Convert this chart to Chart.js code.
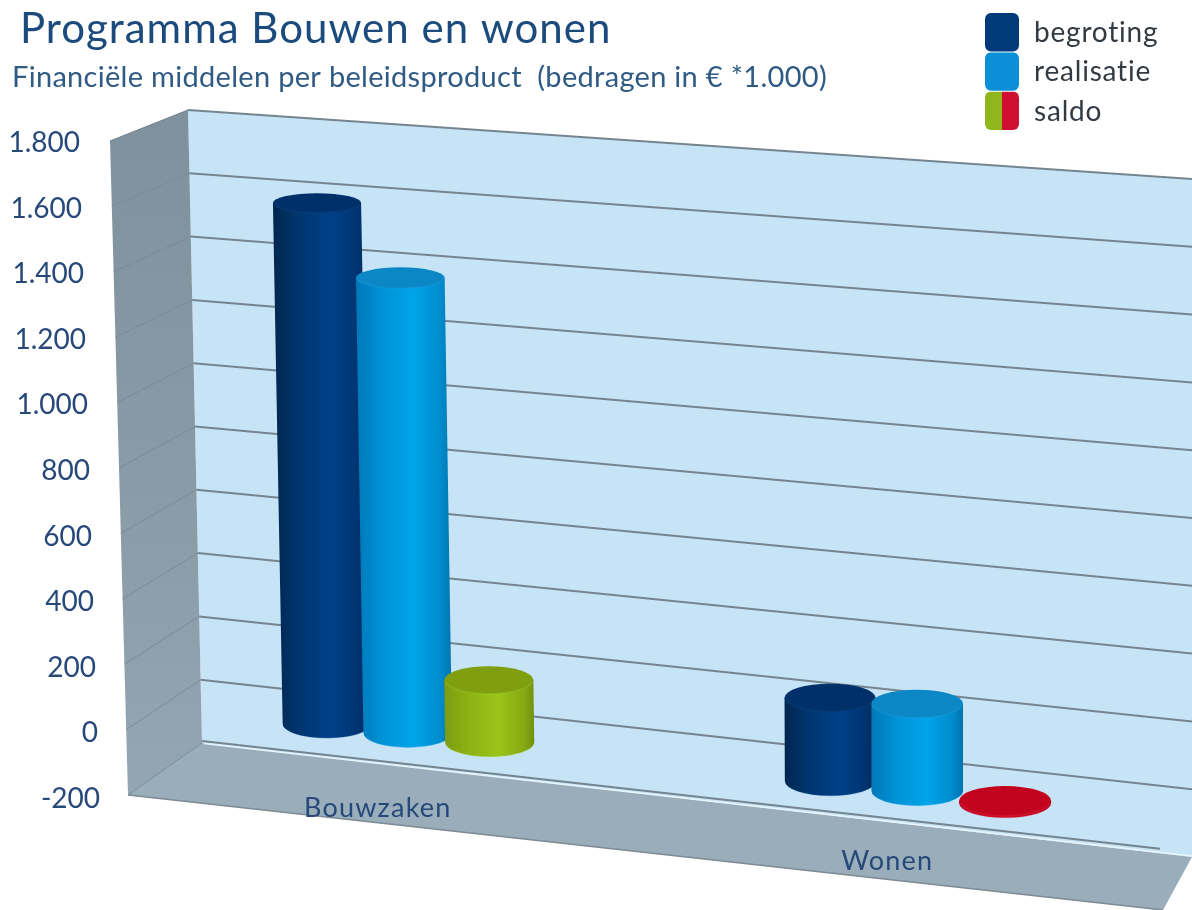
<!DOCTYPE html>
<html>
<head>
<meta charset="utf-8">
<script src="https://cdn.jsdelivr.net/npm/chart.js@4"></script>
<style>html,body{margin:0;padding:0;background:#fff}canvas{display:block}</style>
</head>
<body>
<canvas id="c" width="1192" height="910"></canvas>
<script>
const chartTitle = 'Programma Bouwen en wonen';
const chartSubtitle = 'Financiële middelen per beleidsproduct  (bedragen in € *1.000)';
const categories = ['Bouwzaken', 'Wonen'];
const begroting = [1605, 248];
const realisatie = [1395, 258];
const saldo = [190, -6];
const tickValues = [-200, 0, 200, 400, 600, 800, 1000, 1200, 1400, 1600, 1800];
const tickLabels = ['-200', '0', '200', '400', '600', '800', '1.000', '1.200', '1.400', '1.600', '1.800'];

const FONT = 'Lato, Carlito, "Open Sans", sans-serif';
const paints = {
  begroting: {side: ['#00264f', '#003670', '#004088', '#003470', '#002853'], top: '#003069', rim: '#1d5a9c', sw: ['#003a78']},
  realisatie: {side: ['#0078b8', '#0092d6', '#00a4ea', '#008ccc', '#0072b0'], top: '#0b87c6', rim: '#30b4f0', sw: ['#0b90d8']},
  saldo: {side: ['#7c9c10', '#8cb214', '#9ac41a', '#88aa12', '#70900e'], top: '#7f9f10', rim: '#b4dc30', sw: ['#8fb71c', '#cf1030']},
  neg: {side: ['#b8001a', '#c4041e', '#cc0820', '#c0041c', '#b4001a'], top: '#c2041e', rim: '#e8506a'}
};

function clampLean(x) { return Math.max(0, 0.024 * (1 - (x - 150) / 800)); }
function mapX(x) { const d = x - 407; return 407 + 0.965 * d + 0.0000686 * d * d; }
function zeroAt(x) { return 733 + 0.1135 * (x - 407); }
function unitAt(x) { return (0.3205 + 0.0000225 * (x - 190)) / 0.327; }
function ryAt(y) { return 9.8 + 0.0085 * (y - 203); }

function drawCylinder(ctx, x0, yTop, yBot, w, p) {
  const xt = x0 - clampLean(x0) * (yBot - yTop);
  const rt = ryAt(yTop), rb = ryAt(yBot), hw = w / 2;
  const g = ctx.createLinearGradient(Math.min(xt, x0) - hw, 0, Math.max(xt, x0) + hw, 0);
  [0, 0.27, 0.6, 0.88, 1].forEach((s, i) => g.addColorStop(s, p.side[i]));
  ctx.beginPath();
  ctx.moveTo(xt - hw, yTop);
  ctx.lineTo(x0 - hw, yBot);
  ctx.ellipse(x0, yBot, hw, rb, 0, Math.PI, 0, true);
  ctx.lineTo(xt + hw, yTop);
  ctx.closePath();
  ctx.fillStyle = g;
  ctx.fill();
  ctx.beginPath();
  ctx.ellipse(x0, yBot, hw - 0.5, rb, 0, Math.PI * 0.9, Math.PI * 0.1, true);
  ctx.strokeStyle = p.rim;
  ctx.globalAlpha = 0.3;
  ctx.lineWidth = 1;
  ctx.stroke();
  ctx.globalAlpha = 1;
  ctx.beginPath();
  ctx.ellipse(xt, yTop, hw, rt, 0, 0, Math.PI * 2);
  ctx.fillStyle = p.top;
  ctx.fill();
  ctx.beginPath();
  ctx.ellipse(xt, yTop, hw - 1, rt, 0, Math.PI * 0.95, Math.PI * 0.05, true);
  ctx.strokeStyle = p.rim;
  ctx.globalAlpha = 0.18;
  ctx.lineWidth = 2;
  ctx.stroke();
  ctx.globalAlpha = 1;
}

const scene = {
  id: 'scene',
  beforeDraw(chart) {
    const ctx = chart.ctx, y = chart.scales.y;
    ctx.save();
    ctx.fillStyle = '#ffffff';
    ctx.fillRect(0, 0, chart.width, chart.height);
    ctx.beginPath();
    ctx.moveTo(188, 110); ctx.lineTo(1192, 179); ctx.lineTo(1192, 857); ctx.lineTo(202, 743); ctx.closePath();
    ctx.fillStyle = '#c6e4f6';
    ctx.fill();
    const wg = ctx.createLinearGradient(0, 110, 0, 795);
    wg.addColorStop(0, '#7f919d'); wg.addColorStop(0.6, '#8a9ca8'); wg.addColorStop(1, '#94a6b2');
    ctx.beginPath();
    ctx.moveTo(110, 141); ctx.lineTo(188, 110); ctx.lineTo(202, 743); ctx.lineTo(128, 795); ctx.closePath();
    ctx.fillStyle = wg;
    ctx.fill();
    ctx.beginPath();
    ctx.moveTo(202, 743); ctx.lineTo(1192, 857); ctx.lineTo(1163, 910); ctx.lineTo(128, 795); ctx.closePath();
    ctx.fillStyle = '#99adba';
    ctx.fill();
    const t = y.top, h = y.bottom - y.top;
    y.ticks.forEach(tk => {
      const f = (y.getPixelForValue(tk.value) - t) / h;
      const bx = 188 + 14 * f, by = 110 + 633 * f, fx = 110 + 18 * f, fy = 141 + 654 * f, ry = 179 + 678 * f;
      const last = f > 0.99;
      ctx.lineWidth = 1;
      ctx.strokeStyle = f < 0.01 ? '#6d7e8b' : '#7a8b97';
      ctx.beginPath(); ctx.moveTo(fx, fy); ctx.lineTo(bx, by); ctx.stroke();
      ctx.lineWidth = 2;
      ctx.strokeStyle = '#75858f';
      ctx.beginPath();
      if (last) { ctx.moveTo(bx, by - 2); ctx.lineTo(1160, by - 2 + (1160 - bx) * 0.1125); }
      else { ctx.moveTo(bx, by); ctx.lineTo(1192, ry); }
      ctx.stroke();
      if (last) {
        ctx.strokeStyle = '#e8f5fc';
        ctx.lineWidth = 1.5;
        ctx.beginPath(); ctx.moveTo(bx + 2, by + 0.5); ctx.lineTo(1192, ry - 1); ctx.stroke();
      }
    });
    ctx.strokeStyle = '#7d8b93';
    ctx.lineWidth = 1.5;
    ctx.beginPath(); ctx.moveTo(128, 795); ctx.lineTo(1163, 910); ctx.stroke();
    ctx.restore();
  },
  beforeDatasetDraw() { return false; },
  afterDatasetsDraw(chart) {
    const ctx = chart.ctx, y = chart.scales.y, py0 = y.getPixelForValue(0);
    ctx.save();
    chart.data.datasets.forEach((ds, di) => {
      chart.getDatasetMeta(di).data.forEach((el, i) => {
        const x = mapX(el.x), zero = zeroAt(x), u = unitAt(x);
        const a = zero - (py0 - Math.min(el.y, py0)) * u;
        const b = zero + (Math.max(el.y, py0) - py0) * u;
        const d = (el.x - 407) / 510;
        const w = el.width * (1.05 + 0.035 * d);
        const p = ds.data[i] < 0 ? paints.neg : paints[ds.key];
        drawCylinder(ctx, x, a, b, w, p);
      });
    });
    ctx.restore();
  },
  afterDraw(chart) {
    const ctx = chart.ctx, y = chart.scales.y, xs = chart.scales.x;
    ctx.save();
    ctx.textBaseline = 'alphabetic';
    ctx.textAlign = 'left';
    ctx.fillStyle = '#1b4a7d';
    ctx.font = '42px ' + FONT;
    ctx.letterSpacing = '1px';
    ctx.fillText(chartTitle, 20, 43);
    ctx.fillStyle = '#2f5a84';
    ctx.font = '29px ' + FONT;
    ctx.letterSpacing = '0.3px';
    ctx.fillText(chartSubtitle, 12, 87);
    ctx.fillStyle = '#27497a';
    ctx.font = '28px ' + FONT;
    ctx.letterSpacing = '0px';
    ctx.textAlign = 'right';
    ctx.textBaseline = 'middle';
    y.ticks.forEach(tk => {
      const py = y.getPixelForValue(tk.value);
      ctx.fillText(tickLabels[tickValues.indexOf(tk.value)], 80 + (py - 141) * 0.0305, py + 2);
    });
    ctx.textAlign = 'center';
    ctx.font = '27px ' + FONT;
    ctx.letterSpacing = '1.2px';
    ctx.fillStyle = '#27497a';
    categories.forEach((c, i) => {
      const cx = xs.getPixelForValue(i) - 30;
      ctx.fillText(c, cx, 808 + (cx - 375) * 0.105);
    });
    ctx.letterSpacing = '0.8px';
    ctx.textAlign = 'left';
    chart.data.datasets.forEach((ds, i) => {
      const p = paints[ds.key], top = 13 + i * 39.3;
      ctx.save();
      ctx.beginPath();
      ctx.roundRect(985, top, 34, 38.5, 6);
      ctx.clip();
      if (p.sw.length > 1) {
        ctx.fillStyle = p.sw[0]; ctx.fillRect(985, top, 17, 39);
        ctx.fillStyle = p.sw[1]; ctx.fillRect(1002, top, 17, 39);
      } else {
        ctx.fillStyle = p.sw[0]; ctx.fillRect(985, top, 34, 39);
      }
      ctx.restore();
      ctx.fillStyle = '#343a42';
      ctx.font = '28px ' + FONT;
      ctx.fillText(ds.label, 1034, top + 20);
    });
    ctx.restore();
  }
};

new Chart(document.getElementById('c'), {
  type: 'bar',
  data: {
    labels: categories,
    datasets: [
      {label: 'begroting', key: 'begroting', data: begroting, backgroundColor: '#003a78'},
      {label: 'realisatie', key: 'realisatie', data: realisatie, backgroundColor: '#0b90d8'},
      {label: 'saldo', key: 'saldo', data: saldo, backgroundColor: '#8fb71c'}
    ]
  },
  options: {
    responsive: false,
    animation: false,
    layout: {padding: {left: 145, right: 20, top: 141, bottom: 105}},
    datasets: {bar: {categoryPercentage: 0.497, barPercentage: 1}},
    plugins: {legend: {display: false}, title: {display: false}, tooltip: {enabled: false}},
    scales: {
      x: {grid: {display: false}, border: {display: false}, ticks: {display: false}},
      y: {
        min: -200, max: 1800,
        grid: {display: false}, border: {display: false},
        ticks: {display: false, stepSize: 200}
      }
    }
  },
  plugins: [scene]
});
</script>
</body>
</html>
